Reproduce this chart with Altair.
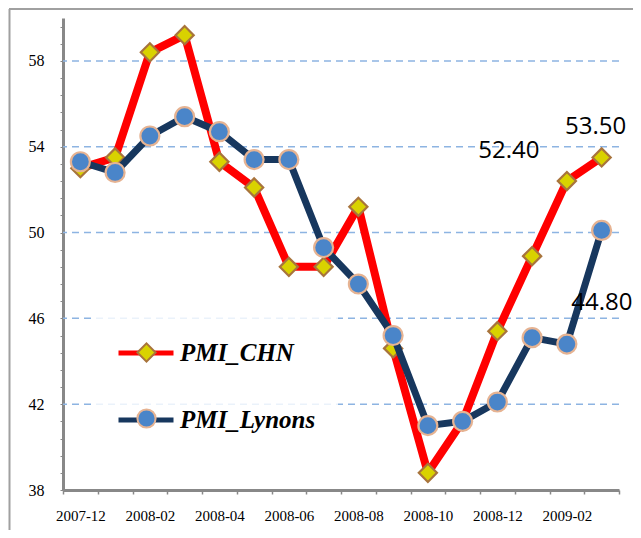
import altair as alt
import pandas as pd

months = ["2007-12", "2008-01", "2008-02", "2008-03", "2008-04", "2008-05",
          "2008-06", "2008-07", "2008-08", "2008-09", "2008-10", "2008-11",
          "2008-12", "2009-01", "2009-02", "2009-03"]
pmi_chn = [53.0, 53.5, 58.4, 59.2, 53.3, 52.1, 48.4, 48.4, 51.2, 44.6, 38.8, 41.2,
           45.4, 48.9, 52.4, 53.5]
pmi_lynons = [53.3, 52.8, 54.5, 55.4, 54.7, 53.4, 53.4, 49.3, 47.6, 45.2, 41.0, 41.2,
              42.1, 45.1, 44.8, 50.1]
series_names = ["PMI_CHN", "PMI_Lynons"]
marker_names = ["CHN marker", "Lynons marker"]
y_major = [38, 42, 46, 50, 54, 58]
grid_values = [42, 46, 50, 54, 58]
x_label_months = ["2007-12", "2008-02", "2008-04", "2008-06", "2008-08",
                  "2008-10", "2008-12", "2009-02"]
labeled_points = [("PMI_CHN", "2009-02"), ("PMI_CHN", "2009-03"), ("PMI_Lynons", "2009-02")]

rows = []
for s, mk, vals in zip(series_names, marker_names, [pmi_chn, pmi_lynons]):
    for m, v in zip(months, vals):
        rows.append({"month": m, "series": s, "marker": mk, "value": v})
df = pd.DataFrame(rows)
grid_df = pd.DataFrame({"g": grid_values})

minor_ticks = [round(38 + 0.8 * k, 1) for k in range(28)]
major_js = "[" + ",".join(str(v) for v in y_major) + "]"
xlab_js = "[" + ",".join(f"'{m}'" for m in x_label_months) + "]"

x_scale = alt.Scale(type="band", domain=months, paddingInner=0, paddingOuter=0)
y_scale = alt.Scale(domain=[38, 60], nice=False, zero=False)

x_axis = alt.Axis(title=None, labelAngle=0, tickBand="extent",
                  labelExpr=f"indexof({xlab_js}, datum.value) >= 0 ? datum.value : ''",
                  labelFont="Liberation Serif", labelFontSize=15, labelColor="black",
                  labelPadding=14, tickSize=4, tickWidth=1.5, tickColor="#888888",
                  domainColor="#888888", domainWidth=3, grid=False)
y_axis = alt.Axis(title=None, values=minor_ticks,
                  labelExpr=f"indexof({major_js}, datum.value) >= 0 ? datum.label : ''",
                  labelFont="Liberation Serif", labelFontSize=16, labelColor="black",
                  labelPadding=16, tickSize=3, tickWidth=1, tickColor="#888888",
                  domainColor="#888888", domainWidth=3, grid=False, labelBound=False)

X = alt.X("month:O", scale=x_scale, axis=x_axis, bandPosition=0.5)
Y = alt.Y("value:Q", scale=y_scale, axis=y_axis)

line_color = alt.Color("series:N",
                       scale=alt.Scale(domain=series_names, range=["#ff0000", "#17375e"]),
                       legend=alt.Legend(orient="none", legendX=31, legendY=283, title=None,
                                         symbolType="stroke", symbolSize=3025,
                                         symbolStrokeWidth=5, labelFont="Liberation Serif",
                                         labelFontSize=25, labelFontStyle="italic",
                                         labelFontWeight="bold", labelColor="black",
                                         labelOffset=4, rowPadding=24, padding=22,
                                         fillColor="rgba(255,255,255,0.82)", labelLimit=400,
                                         symbolOpacity=1))
leg_b = alt.Legend(orient="none", legendX=73, legendY=324, title=None, labelExpr="''",
                   symbolSize=330, symbolStrokeWidth=2, rowPadding=39, padding=0,
                   symbolOpacity=1, labelFontSize=20)
pt_fill = alt.Fill("marker:N", scale=alt.Scale(domain=marker_names, range=["#d9d200", "#4a85c9"]),
                   legend=leg_b)
pt_shape = alt.Shape("marker:N", scale=alt.Scale(domain=marker_names, range=["diamond", "circle"]),
                     legend=leg_b)
pt_stroke = alt.Stroke("marker:N", scale=alt.Scale(domain=marker_names, range=["#a8743c", "#e6b392"]),
                       legend=leg_b)

grid = alt.Chart(grid_df).mark_rule(color="#8db4e2", strokeDash=[7, 5], strokeWidth=1.5).encode(
    y=alt.Y("g:Q", scale=y_scale, axis=y_axis))

frame_data = pd.DataFrame({"a": [0]})
frame_top = alt.Chart(frame_data).mark_rule(color="#a0a0a0", strokeWidth=2).encode(
    x=alt.value(-54), x2=alt.value(580), y=alt.value(-9))
frame_left = alt.Chart(frame_data).mark_rule(color="#a0a0a0", strokeWidth=2).encode(
    x=alt.value(-53.5), y=alt.value(-9), y2=alt.value(520))

chn = df[df.series == "PMI_CHN"]
lyn = df[df.series == "PMI_Lynons"]

def line_layer(d, w):
    return alt.Chart(d).mark_line(strokeWidth=w, strokeJoin="round").encode(x=X, y=Y, color=line_color)

def point_layer(d, size):
    return alt.Chart(d).mark_point(filled=True, opacity=1, size=size, strokeWidth=2.2).encode(
        x=X, y=Y, fill=pt_fill, shape=pt_shape, stroke=pt_stroke)

def label_layer(series, month, dx, dy):
    d = df[(df.series == series) & (df.month == month)]
    return alt.Chart(d).mark_text(font="Open Sans", fontSize=24, color="black", dx=dx, dy=dy,
                                  baseline="middle", align="center").encode(
        x=X, y=Y, text=alt.Text("value:Q", format=".2f"))

labels = [label_layer(*labeled_points[0], -58, -30),
          label_layer(*labeled_points[1], -6, -30),
          label_layer(*labeled_points[2], 35, -41)]

chart = alt.layer(
    grid, frame_top, frame_left,
    line_layer(chn, 8), point_layer(chn, 330),
    line_layer(lyn, 7), point_layer(lyn, 360),
    *labels
).properties(
    width=556, height=472,
    autosize=alt.AutoSizeParams(type="none"),
    padding={"left": 55, "top": 10, "right": 14, "bottom": 40},
).configure_view(stroke=None)

chart.save("out.html", embed_options={"renderer": "svg", "actions": False})
